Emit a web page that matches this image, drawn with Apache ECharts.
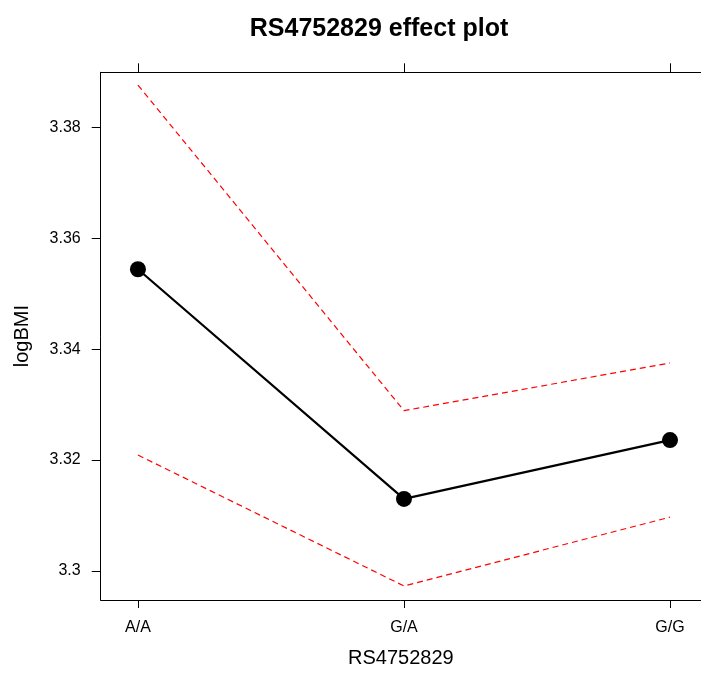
<!DOCTYPE html>
<html>
<head>
<meta charset="utf-8">
<script src="https://cdn.jsdelivr.net/npm/echarts@6/dist/echarts.min.js"></script>
<style>html,body{margin:0;padding:0;background:#fff}#c{width:701px;height:673px}</style>
</head>
<body>
<div id="c"></div>
<script>
const categories = ['A/A', 'G/A', 'G/G'];
const fitValues = [3.3544, 3.3130, 3.3236];
const upperValues = [3.3876, 3.3289, 3.3375];
const lowerValues = [3.3209, 3.2973, 3.3097];
const yTicks = [3.30, 3.32, 3.34, 3.36, 3.38];

const FONT = '"Liberation Sans", Arial, Helvetica, sans-serif';
const toPairs = arr => arr.map((v, i) => [i, v]);
const catIdx = categories.map((_, i) => i);

const chart = echarts.init(document.getElementById('c'), null, {renderer: 'canvas'});
chart.setOption({
  animation: false,
  backgroundColor: '#ffffff',
  title: {
    text: 'RS4752829 effect plot',
    left: 374, top: 12, textAlign: 'center',
    textStyle: {fontFamily: FONT, fontSize: 25, fontWeight: 'bold', color: '#000'}
  },
  grid: {left: 100.7, top: 72.3, bottom: 73, right: 0, containLabel: false},
  xAxis: [{
    type: 'value', min: -0.14, max: 2.1165, position: 'bottom',
    name: 'RS4752829', nameLocation: 'middle', nameGap: 48,
    nameTextStyle: {fontFamily: FONT, fontSize: 20, color: '#000', align: 'center'},
    axisLine: {show: true, onZero: false, lineStyle: {color: '#000', width: 1}},
    axisTick: {show: true, customValues: catIdx, length: 8, lineStyle: {color: '#000'}},
    axisLabel: {show: true, customValues: catIdx, margin: 20, fontFamily: FONT, fontSize: 16, color: '#000',
      formatter: v => categories[Math.round(v)] || ''},
    splitLine: {show: false}
  }, {
    type: 'value', min: -0.14, max: 2.1165, position: 'top',
    axisLine: {show: true, onZero: false, lineStyle: {color: '#000', width: 1}},
    axisTick: {show: true, customValues: catIdx, length: 9, lineStyle: {color: '#000'}},
    axisLabel: {show: false},
    splitLine: {show: false}
  }],
  yAxis: {
    type: 'value', min: 3.29477, max: 3.3899, position: 'left',
    name: 'logBMI', nameLocation: 'middle', nameGap: 68, nameRotate: 90,
    nameTextStyle: {fontFamily: FONT, fontSize: 20, color: '#000'},
    axisLine: {show: true, onZero: false, lineStyle: {color: '#000', width: 1}},
    axisTick: {show: true, customValues: yTicks, length: 9, lineStyle: {color: '#000'}},
    axisLabel: {show: true, customValues: yTicks, margin: 20, fontFamily: FONT, fontSize: 16, color: '#000',
      formatter: v => String(parseFloat(Number(v).toFixed(2)))},
    splitLine: {show: false}
  },
  series: [{
    type: 'line', data: toPairs(upperValues), xAxisIndex: 0,
    symbol: 'none', lineStyle: {color: '#ff0000', width: 1.2, type: [6, 4]}, z: 2
  }, {
    type: 'line', data: toPairs(lowerValues), xAxisIndex: 0,
    symbol: 'none', lineStyle: {color: '#ff0000', width: 1.2, type: [6, 4]}, z: 2
  }, {
    type: 'line', data: toPairs(fitValues), xAxisIndex: 0,
    symbol: 'circle', symbolSize: 16, showAllSymbol: true,
    itemStyle: {color: '#000'}, lineStyle: {color: '#000', width: 2.2}, z: 3
  }]
});
</script>
</body>
</html>
